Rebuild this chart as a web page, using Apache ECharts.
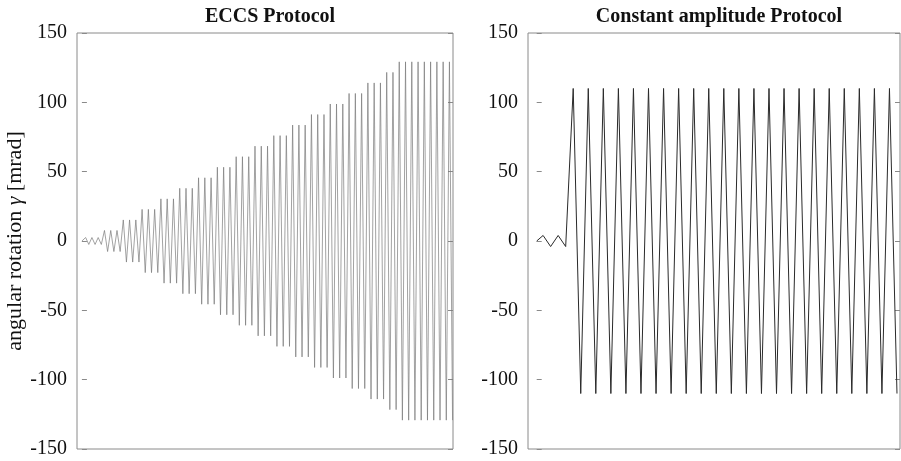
<!DOCTYPE html>
<html>
<head>
<meta charset="utf-8">
<script src="https://cdn.jsdelivr.net/npm/echarts@6/dist/echarts.min.js"></script>
<style>
html,body{margin:0;padding:0;background:#fff;}
#chart{width:901px;height:461px;}
</style>
</head>
<body>
<div id="chart"></div>
<script>
// ECCS protocol: amplitude levels [mrad] and number of cycles at each level
const eccsLevels = [2.5, 7.6, 15.2, 22.8, 30.4, 38, 45.6, 53.2, 60.8, 68.4, 76, 83.6, 91.2, 98.8, 106.4, 114, 121.6, 129.2];
const eccsCycles = [3, 3, 3, 3, 3, 3, 3, 3, 3, 3, 3, 3, 3, 3, 3, 3, 2, 9];
// Constant amplitude protocol
const caLevels = [4, 110];
const caCycles = [2, 22];
// Axis ticks
const yTicks = [-150, -100, -50, 0, 50, 100, 150];
const titles = ['ECCS Protocol', 'Constant amplitude Protocol'];

function buildWave(levels, cycles, t0, halfStep) {
  const pts = [[0, 0]];
  let t = t0;
  levels.forEach((a, i) => {
    for (let c = 0; c < cycles[i]; c++) {
      pts.push([t, a]); t += halfStep;
      pts.push([t, -a]); t += halfStep;
    }
  });
  return pts;
}
const eccsData = buildWave(eccsLevels, eccsCycles, 0.6, 0.5);
const caData = buildWave(caLevels, caCycles, 0.85, 1);

const serif = '"Liberation Serif", "DejaVu Serif", serif';
const axisGray = '#8a8a8a';

function yAxes(gridIndex) {
  const base = {
    type: 'value', gridIndex, min: yTicks[0], max: yTicks[yTicks.length - 1], interval: 50,
    splitLine: { show: false },
    axisLine: { show: false }
  };
  return [
    Object.assign({}, base, {
      position: 'left',
      axisTick: { show: true, inside: true, length: 5, lineStyle: { color: axisGray } },
      axisLabel: { show: true, margin: 10, color: '#111', fontFamily: serif, fontSize: 20 },
      name: gridIndex === 0 ? '{a|angular rotation }{g|γ}{a| [mrad]}' : '',
      nameLocation: 'middle', nameGap: 50, nameRotate: 90,
      nameTextStyle: { rich: {
        a: { fontFamily: serif, fontSize: 22, color: '#111' },
        g: { fontFamily: serif, fontSize: 22, fontStyle: 'italic', color: '#111' }
      } }
    }),
    Object.assign({}, base, {
      position: 'right',
      axisTick: { show: true, inside: true, length: 5, lineStyle: { color: axisGray } },
      axisLabel: { show: false }
    })
  ];
}

const chart = echarts.init(document.getElementById('chart'), null, { renderer: 'canvas' });
chart.setOption({
  animation: false,
  backgroundColor: '#fff',
  title: [
    { text: titles[0], left: 265, top: 2, textAlign: 'center',
      textStyle: { fontFamily: serif, fontWeight: 'bold', fontSize: 20, color: '#111' } },
    { text: titles[1], left: 714, top: 2, textAlign: 'center',
      textStyle: { fontFamily: serif, fontWeight: 'bold', fontSize: 20, color: '#111' } }
  ],
  grid: [
    { left: 77, top: 33, width: 376, height: 416, show: true, borderColor: axisGray, borderWidth: 1, backgroundColor: 'transparent' },
    { left: 528, top: 33, width: 372, height: 416, show: true, borderColor: axisGray, borderWidth: 1, backgroundColor: 'transparent' }
  ],
  xAxis: [
    { type: 'value', gridIndex: 0, min: -0.78, max: 59.17, axisLine: { show: false }, axisTick: { show: false }, axisLabel: { show: false }, splitLine: { show: false } },
    { type: 'value', gridIndex: 1, min: -1.155, max: 48.25, axisLine: { show: false }, axisTick: { show: false }, axisLabel: { show: false }, splitLine: { show: false } }
  ],
  yAxis: [...yAxes(0), ...yAxes(1)],
  series: [
    { type: 'line', xAxisIndex: 0, yAxisIndex: 0, data: eccsData, showSymbol: false, symbol: 'none',
      lineStyle: { color: '#7a7a7a', width: 0.7 } },
    { type: 'line', xAxisIndex: 1, yAxisIndex: 2, data: caData, showSymbol: false, symbol: 'none',
      lineStyle: { color: '#2a2a2a', width: 1 } }
  ]
});
</script>
</body>
</html>
